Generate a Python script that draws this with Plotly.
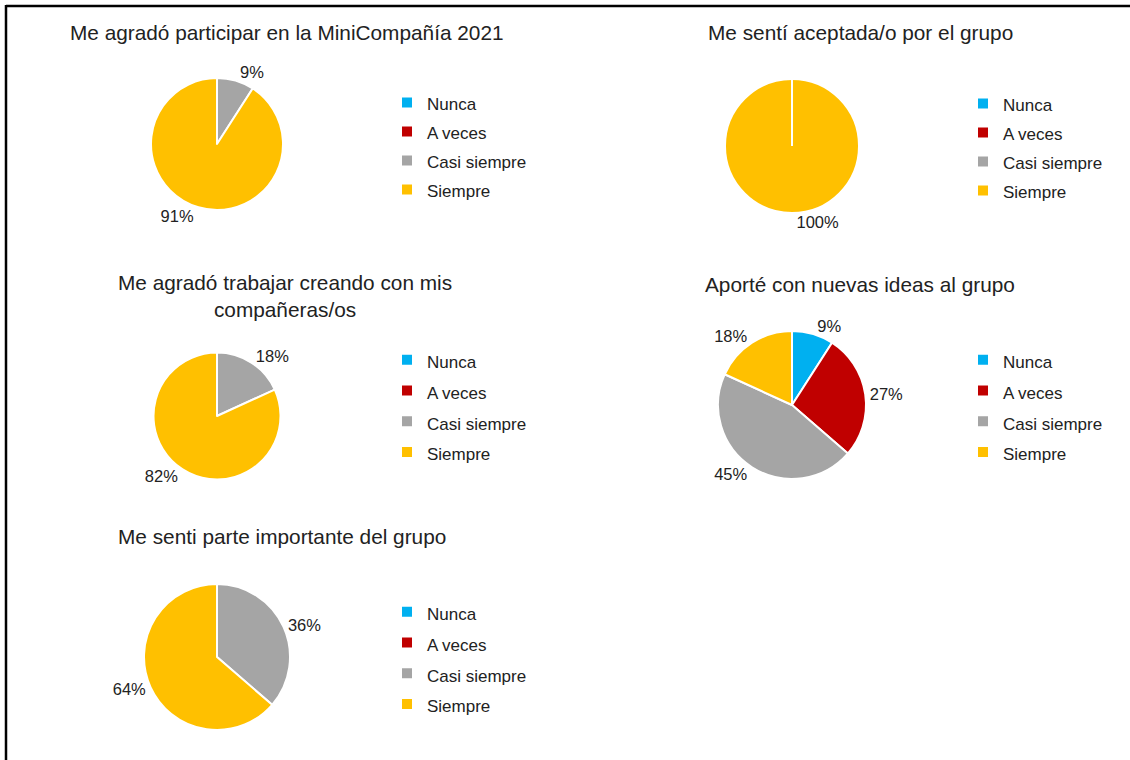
import plotly.graph_objects as go

categories = ["Nunca", "A veces", "Casi siempre", "Siempre"]
colors = ["#00B0F0", "#C00000", "#A5A5A5", "#FFC000"]

titles = [
    "Me agradó participar en la MiniCompañía 2021",
    "Me sentí aceptada/o por el grupo",
    "Me agradó trabajar creando con mis<br>compañeras/os",
    "Aporté con nuevas ideas al grupo",
    "Me senti parte importante del grupo",
]
values_1 = [0, 0, 1, 10]
values_2 = [0, 0, 0, 11]
values_3 = [0, 0, 2, 9]
values_4 = [1, 3, 5, 2]
values_5 = [0, 0, 4, 7]
all_values = [values_1, values_2, values_3, values_4, values_5]

W, H = 1130, 760
# layout: pie centre (px), radius (px), title centre (px), legend left x / middle y (px),
# legend line-height font size (controls row spacing)
layouts = [
    dict(cx=217, cy=144, r=66, tx=287, ty=32, lx=387, ly=146, ls=20),
    dict(cx=792, cy=146, r=67, tx=860, ty=32, lx=963, ly=147, ls=20),
    dict(cx=217, cy=416, r=63.5, tx=285, ty=296, lx=387, ly=406, ls=21.3),
    dict(cx=792, cy=405, r=74, tx=860, ty=284, lx=963, ly=406, ls=21.3),
    dict(cx=217, cy=657, r=73, tx=282, ty=536, lx=387, ly=658, ls=21.3),
]

FONT = "Liberation Sans, Arial, sans-serif"
TXT = "#222222"
LEGEND_TEXT_SIZE = 17

fig = go.Figure()
annotations = []
legends = {}
shapes = [
    dict(type="line", xref="paper", yref="paper", x0=6 / W, x1=1.0,
         y0=1 - 6 / H, y1=1 - 6 / H, line=dict(color="black", width=2.5)),
    dict(type="line", xref="paper", yref="paper", x0=6 / W, x1=6 / W,
         y0=1 - 5 / H, y1=0, line=dict(color="black", width=2.5)),
]
legend_labels = [f"<span style='font-size:{LEGEND_TEXT_SIZE}px'>{c}</span>" for c in categories]

for i, (vals, L, title) in enumerate(zip(all_values, layouts, titles)):
    lname = "legend" if i == 0 else f"legend{i+1}"
    dom_x = [(L["cx"] - L["r"]) / W, (L["cx"] + L["r"]) / W]
    dom_y = [1 - (L["cy"] + L["r"]) / H, 1 - (L["cy"] - L["r"]) / H]
    fig.add_trace(go.Pie(
        labels=legend_labels,
        values=vals,
        sort=False,
        direction="clockwise",
        rotation=0,
        marker=dict(colors=colors, line=dict(color="white", width=2)),
        texttemplate="%{percent:.0%}",
        textposition=["none" if v == 0 else "outside" for v in vals],
        outsidetextfont=dict(family=FONT, size=16.5, color=TXT),
        domain=dict(x=dom_x, y=dom_y),
        legend=lname,
        legendgroup=f"g{i}",
        customdata=categories,
        hovertemplate="%{customdata}: %{value} (%{percent:.0%})<extra></extra>",
        showlegend=True,
    ))
    legends[lname] = dict(
        x=L["lx"] / W, y=1 - L["ly"] / H, xanchor="left", yanchor="middle",
        font=dict(family=FONT, size=L["ls"], color=TXT),
        bgcolor="rgba(0,0,0,0)", traceorder="normal",
    )
    annotations.append(dict(
        text=title, x=L["tx"] / W, y=1 - L["ty"] / H, xref="paper", yref="paper",
        xanchor="center", yanchor="middle", showarrow=False, align="center",
        font=dict(family=FONT, size=20.8, color=TXT),
    ))
    # slice border at the start angle when a single slice fills the whole pie
    if sum(1 for v in vals if v > 0) == 1:
        shapes.append(dict(
            type="line", xref="paper", yref="paper",
            x0=L["cx"] / W, x1=L["cx"] / W,
            y0=1 - L["cy"] / H, y1=dom_y[1],
            line=dict(color="white", width=2), layer="above",
        ))

fig.update_layout(
    width=W, height=H,
    margin=dict(l=0, r=0, t=0, b=0),
    paper_bgcolor="white", plot_bgcolor="white",
    annotations=annotations,
    shapes=shapes,
    **legends,
)

fig.write_html("out.html", config={"displayModeBar": False},
               post_script="document.body.style.margin='0';")
